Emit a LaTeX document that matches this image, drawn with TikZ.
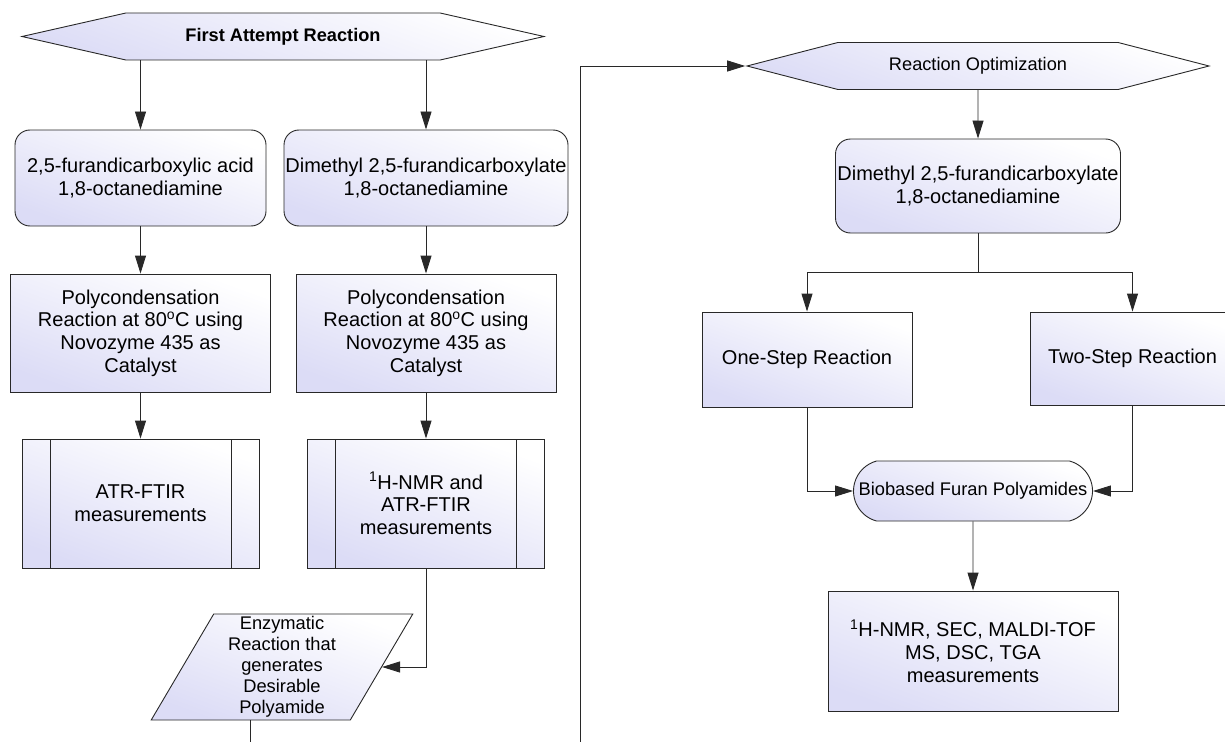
\documentclass[tikz,border=0pt]{standalone}
\usepackage{fontspec}
\setmainfont{Liberation Sans}
\usetikzlibrary{positioning,shapes.symbols,shapes.geometric,shapes.misc,arrows.meta}

\definecolor{lavender}{RGB}{220,220,246}
\definecolor{linegray}{RGB}{40,40,40}

\begin{document}
\begin{tikzpicture}[x=1pt, y=-1pt, ->, >={Triangle[length=18pt, width=11pt]}, line width=0.9pt, linegray, node distance=155pt,
    grad/.style={shade, top color=white, bottom color=lavender, shading angle=-20, draw=linegray, text=black},
    hexnode/.style={grad, signal, signal to=west and east, minimum height=47, inner sep=1pt, font=\fontsize{18.2}{21}\selectfont},
    roundbox/.style={grad, rectangle, rounded corners=15pt, inner sep=1pt, align=center, font=\fontsize{20}{22.7}\selectfont},
    procbox/.style={grad, rectangle, inner sep=1pt, align=center, font=\fontsize{20}{22.7}\selectfont},
    measbox/.style={procbox, path picture={
        \draw[-, linegray] ([xshift=28]path picture bounding box.north west) -- ([xshift=28]path picture bounding box.south west);
        \draw[-, linegray] ([xshift=-28]path picture bounding box.north east) -- ([xshift=-28]path picture bounding box.south east);}},
    iobox/.style={grad, trapezium, trapezium left angle=64, trapezium right angle=116, trapezium stretches=true, inner sep=1pt, align=center, font=\fontsize{18.3}{21}\selectfont},
    termbox/.style={grad, rounded rectangle, rounded rectangle arc length=150, inner sep=1pt, font=\fontsize{18.3}{21}\selectfont}]

    \useasboundingbox (0,0) rectangle (1225,741);
    \clip (0,0) rectangle (1225,741);

    % first attempt
    \node[hexnode, minimum width=522, signal pointer angle=25.5, font=\fontsize{18.2}{21}\selectfont\bfseries] (start) at (283,36.5) {First Attempt Reaction};

    \node[roundbox, minimum width=251, minimum height=96] (acid) [below of=start, xshift=-142.5, yshift=13.5] {2,5-furandicarboxylic acid\\1,8-octanediamine};
    \node[roundbox, minimum width=284, minimum height=96] (ester) [below of=start, xshift=143, yshift=13.5] {Dimethyl 2,5-furandicarboxylate\\1,8-octanediamine};

    \node[procbox, minimum width=260, minimum height=118] (poly1) [below of=acid] {Polycondensation\\Reaction at 80\textsuperscript{o}C using\\Novozyme 435 as\\Catalyst};
    \node[procbox, minimum width=260, minimum height=118] (poly2) [below of=ester] {Polycondensation\\Reaction at 80\textsuperscript{o}C using\\Novozyme 435 as\\Catalyst};

    \node[measbox, minimum width=237, minimum height=129] (ftir) [below of=poly1, yshift=-15.5] {ATR-FTIR\\measurements};
    \node[measbox, minimum width=237, minimum height=129] (nmr) [below of=poly2, yshift=-15.5] {\textsuperscript{1}H-NMR and\\ATR-FTIR\\measurements};

    \node[iobox, minimum width=262, minimum height=106] (enzyme) [below of=nmr, xshift=-144, yshift=-8.5] {Enzymatic\\Reaction that\\generates\\Desirable\\Polyamide};

    % optimization
    \node[hexnode, minimum width=462, signal pointer angle=29] (optim) at (978,66) {Reaction Optimization};

    \node[roundbox, minimum width=285, minimum height=94] (ester2) [below of=optim, yshift=35] {Dimethyl 2,5-furandicarboxylate\\1,8-octanediamine};

    \node[procbox, minimum width=210, minimum height=95] (onestep) [below of=ester2, xshift=-171, yshift=-18.5] {One-Step Reaction};
    \node[procbox, minimum width=205, minimum height=93] (twostep) [below of=ester2, xshift=154.5, yshift=-17.5] {Two-Step Reaction};

    \node[termbox, minimum width=241, minimum height=60] (biobased) [below of=ester2, xshift=-5, yshift=-150] {Biobased Furan Polyamides};

    \node[procbox, minimum width=290, minimum height=120] (analysis) [below of=biobased, yshift=-5] {\textsuperscript{1}H-NMR, SEC, MALDI-TOF\\MS, DSC, TGA\\measurements};

    \coordinate (bottomturn) at (580,765);
    \coordinate (fork) at ([yshift=-39]ester2.south);

    \path
        (start.south -| acid.north) edge (acid.north)
        (start.south -| ester.north) edge (ester.north)
        (acid) edge (poly1)
        (ester) edge (poly2)
        (poly1) edge (ftir)
        (poly2) edge (nmr)
        (optim) edge (ester2)
        (biobased) edge (analysis)
        ;

    \draw (nmr.south) |- (enzyme.east);
    \draw (enzyme.bottom side) |- (bottomturn) |- (optim.west);
    \draw (ester2.south) -- (fork) -| (onestep.north);
    \draw (fork) -| (twostep.north);
    \draw (onestep.south) |- (biobased.west);
    \draw (twostep.south) |- (biobased.east);
\end{tikzpicture}
\end{document}
